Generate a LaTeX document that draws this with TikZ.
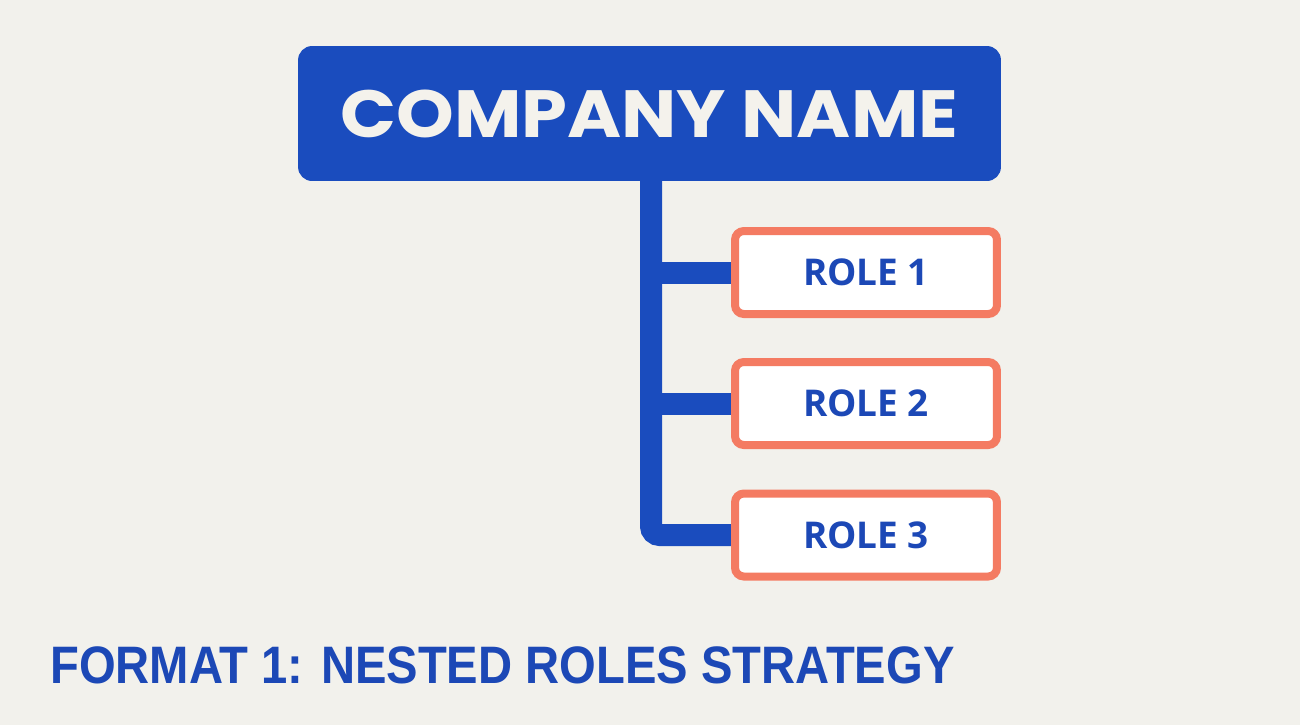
\documentclass[tikz,border=0pt]{standalone}
\usepackage{fontspec}
\setmainfont{Liberation Sans}
\newfontfamily\headfont{Poppins}[BoldFont={* Bold}, FakeStretch=1.1]
\newfontfamily\rolefont{Open Sans}
\newfontfamily\capfont{Liberation Sans}[FakeStretch=0.895]
\usetikzlibrary{positioning,calc,backgrounds}
\definecolor{pagebg}{HTML}{F2F1EC}
\definecolor{headblue}{HTML}{1A4CBE}
\definecolor{inkblue}{HTML}{1C48B6}
\definecolor{rolered}{HTML}{F47B62}
\definecolor{offwhite}{HTML}{F4F2EC}
\tikzset{
  head/.style={
    fill=headblue,
    rounded corners=8pt,
    minimum width=14.06cm,
    minimum height=2.7cm,
    inner sep=0pt,
    outer sep=0pt,
    text=offwhite,
    font=\headfont\bfseries\fontsize{38}{40}\selectfont
  },
  rolebox/.style={
    draw=rolered,
    fill=white,
    line width=0.16cm,
    rounded corners=5pt,
    minimum width=5.24cm,
    minimum height=1.66cm,
    inner sep=0pt,
    outer sep=0pt,
    text=inkblue,
    font=\rolefont\bfseries\fontsize{21}{23}\selectfont
  },
  trunk/.style={draw=headblue, line width=0.44cm, rounded corners=5pt}
}
\begin{document}
\begin{tikzpicture}[x=0.02cm, y=-0.02cm]
  \useasboundingbox (0,0) rectangle (1300,725);
  % company box and the three roles
  \node[head] (company) at (649.5,113.5) {COMPANY NAME};
  \node[rolebox] (role1) at (866,272.5) {ROLE 1};
  \node[rolebox] (role2) at (866,403.5) {ROLE 2};
  \node[rolebox] (role3) at (866,535) {ROLE 3};
  \coordinate (top) at (651,175);
  % connectors behind the boxes
  \begin{scope}[on background layer]
    \fill[pagebg] (0,0) rectangle (1300,725);
    \draw[trunk] (top) |- (role3.west);
    \draw[trunk] (top |- role1.west) -- (role1.west);
    \draw[trunk] (top |- role2.west) -- (role2.west);
  \end{scope}
  \node[anchor=base west, inner sep=0pt, text=inkblue,
        font=\capfont\bfseries\fontsize{30}{32}\selectfont]
    (caption) at (50,683) {FORMAT 1: NESTED ROLES STRATEGY};
\end{tikzpicture}
\end{document}
